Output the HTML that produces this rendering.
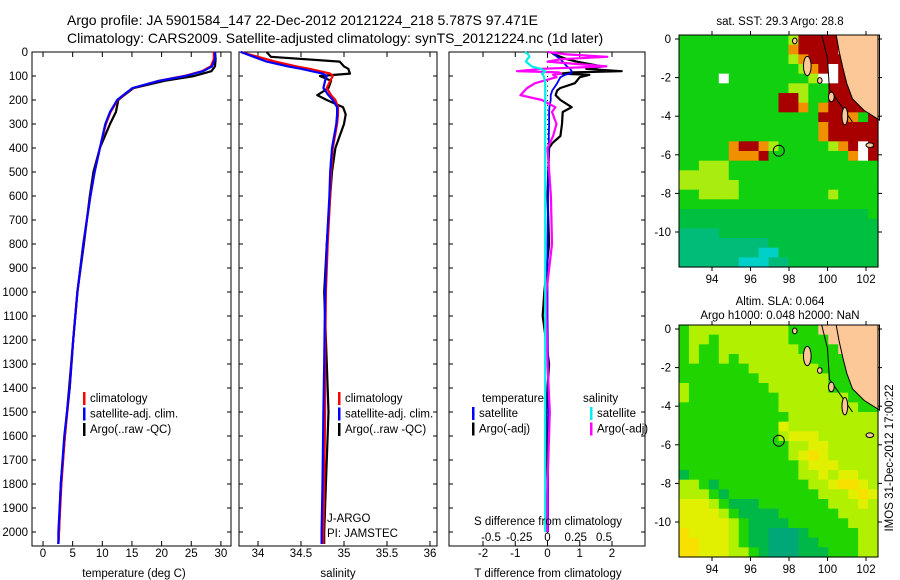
<!DOCTYPE html>
<html><head><meta charset="utf-8">
<style>
html,body{margin:0;padding:0;background:#fff;}
svg{display:block;font-family:"Liberation Sans",sans-serif;}
</style></head>
<body>
<svg id="fig" width="900" height="580" viewBox="0 0 900 580" xmlns="http://www.w3.org/2000/svg">
<text x="67" y="25" font-size="14">Argo profile: JA 5901584_147 22-Dec-2012 20121224_218 5.787S 97.471E</text>
<text x="67" y="43" font-size="14">Climatology: CARS2009. Satellite-adjusted climatology: synTS_20121224.nc (1d later)</text>
</svg>
<script>
// ---------- data ----------
const depthTicks=[0,100,200,300,400,500,600,700,800,900,1000,1100,1200,1300,1400,1500,1600,1700,1800,1900,2000];
const tempTicks=[0,5,10,15,20,25,30];
const salTicks=[34,34.5,35,35.5,36];
const tdiffTicks=[-2,-1,0,1,2];
const sdiffTicks=[-0.5,-0.25,0,0.25,0.5];
const sdiffLabels=["-0.5","-0.25","0","0.25","0.5"];

const tDepth=[0,30,60,80,100,120,150,180,200,250,300,400,500,600,800,1000,1200,1400,1600,1800,2000,2050];
const tClim=[28.8,28.8,28.3,26.8,23.8,19.5,15.2,13.6,12.6,11.4,10.6,9.6,8.7,8.0,6.8,5.8,5.1,4.5,3.7,3.1,2.7,2.6];
const tSat=[29.0,29.0,28.5,27.0,24.0,19.6,15.1,13.5,12.5,11.3,10.5,9.6,8.7,8.0,6.8,5.8,5.1,4.5,3.6,3.0,2.6,2.6];
const tArgo=[29.0,29.1,29.0,28.4,25.5,20.5,15.3,13.7,12.7,12.3,11.3,9.6,8.5,7.9,6.9,5.8,5.1,4.4,3.7,3.0,2.7,2.6];

const sDepth=[0,20,40,60,70,90,100,120,150,180,200,230,260,300,400,500,600,800,1000,1300,1500,1800,2000,2050];
const sClim=[33.8,34.0,34.2,34.45,34.6,34.84,34.87,34.84,34.8,34.85,34.9,34.93,34.93,34.92,34.87,34.85,34.84,34.81,34.79,34.78,34.78,34.77,34.76,34.76];
const sSat=[33.8,33.95,34.1,34.35,34.5,34.75,34.8,34.78,34.76,34.82,34.87,34.92,34.92,34.91,34.86,34.84,34.83,34.8,34.78,34.77,34.76,34.75,34.74,34.74];
const sArgo=[34.1,34.15,34.95,35.0,35.05,35.07,34.72,34.85,34.82,34.69,34.8,34.99,35.02,35.0,34.9,34.86,34.84,34.8,34.77,34.8,34.82,34.79,34.77,34.77];

const dDepth=[0,10,20,30,40,60,70,80,85,90,95,105,130,150,160,180,200,230,250,300,350,380,400,600,800,1000,1100,1300,1500,1800,2000];
const dTsat=[0.17,0.2,0.3,0.4,0.47,0.6,0.7,0.75,0.75,0.7,0.55,0.4,0.3,0.2,0.15,0.1,0.1,0.06,0.05,0.05,0.04,0.04,0.03,0.02,0.0,0.0,0.0,0.02,0.02,0.02,0.02];
const dTargo=[0.1,0.2,0.4,0.6,0.9,1.7,1.2,2.3,0.8,0.4,1.3,1.0,0.85,0.4,0.3,0.25,0.4,0.75,0.47,0.45,0.4,0.15,0.05,0.0,0.05,-0.1,-0.15,0.05,-0.05,0.0,-0.05];
const dSsat=[-0.2,-0.17,-0.16,-0.18,-0.19,-0.14,-0.06,-0.02,-0.03,-0.05,-0.04,-0.03,-0.02,-0.02,-0.02,-0.02,-0.02,-0.02,-0.02,-0.02,-0.02,-0.02,-0.02,-0.02,-0.02,-0.02,-0.02,-0.02,-0.02,-0.02,-0.02];
const dSargo=[0.0,0.17,0.53,0.12,0.0,0.52,-0.05,-0.27,0.1,0.12,0.05,0.08,-0.11,-0.18,-0.2,-0.24,-0.05,0.07,0.04,0.08,0.05,0.02,0.0,0.03,0.04,-0.01,-0.01,0.0,0.02,0.0,0.0];

const lonTicks=[94,96,98,100,102];
const latTicks=[0,-2,-4,-6,-8,-10];
const argoLon=97.471, argoLat=-5.787;
const sstGrid=[
"GGGGGGGGGGGYRRRRLLLL",
"GGGGGGGGGGGoRRRRLLLL",
"GGGGGGGGGGGYoRRRRLLL",
"GGGGGGGGGGGGYoRWRRLL",
"GGGGWGGGGGGGGYWWRRLL",
"GGGGGGGGGGGYYGGRRRRL",
"GGGGGGGGGGRRYGGRRRRL",
"GGGGGGGGGGRRoGoRRRRL",
"GGGGGGGGGGGGGGRRRoGR",
"GGGGGGGGGGGGGGoRRRRR",
"GGGGGGGGGGGGGGoRRRRR",
"GGGGGoRRoYGGGGGYoRWR",
"GGGGGoooRGGGGGGGGoWR",
"GGYYYGGGGGGGGGGGGGGG",
"YYYYYGGGGGGGGGGGGGGG",
"YYYYYYGGGGGGGGGGGGGG",
"GGYYYYGGGGGGGGGYGGGG",
"GGGGGGGGGGGGGGGGGGGG",
"gggggggggggggggggggG",
"gggggggggggggggggggg",
"ccccgggggggggggggggg",
"cccccccccggggggggggg",
"ccccccccCCgggggggggg",
"ccccccCCCccggggggggg"];
const slaGrid=[
"GllllllllllGGGLLLLLL",
"GllGlllllllGGGGLLLLL",
"GlGGllllllllGGGGLLLL",
"GlGGlGlllllllGGGGLLL",
"GGGGGGGlllllllGGGGLL",
"GGGGGGGGlllllllGGGLL",
"lGGGGGGGGllllllGGGGL",
"lGGGGGGGGGlllllllGGG",
"GGGGGGGGGGllllllllGG",
"GGGGGGGGGGGlllllllll",
"GGGGGGGGGGylllllllll",
"GGGGGGGGGGlyyyllllll",
"GGGGGGGGGGGllyylllll",
"GGGGGGGGGGGlyYylllll",
"GGGGGGGGGGGGlyyyllll",
"dGGGGGGGGGGGllylyyll",
"llGdGGGGGGGGGllyYYyl",
"lllGdGGGGGGGGGlllyYy",
"yyylGdddGGGGGGGlllyl",
"yyyylGddddGGGGGGllll",
"yyyyylGddddGGGGGGlll",
"YyyyylGddtttdGGGGGll",
"YYyyylGddtttddGGGGll",
"YYyyyllGdtttdddGGGll"];
const sstColors={G:"#10d010",g:"#00c040",Y:"#a8ec10",o:"#f09000",R:"#a80000",L:"#fcc898",W:"#ffffff",c:"#00bc78",C:"#00d0c8",y:"#f0e000"};
const slaColors={G:"#20d400",l:"#b0f000",y:"#e0f000",Y:"#f8e000",d:"#00b848",t:"#00a878",L:"#fcc898"};
const coast=[[100.45,0.25],[100.6,-0.6],[100.8,-1.5],[101.0,-2.3],[101.3,-3.1],[101.9,-3.7],[102.7,-4.2],[102.7,0.25]];
const islands=[[98.3,-0.1,0.12,0.15],[98.95,-1.4,0.2,0.5],[99.6,-2.15,0.12,0.15],[100.2,-3.0,0.15,0.25],[100.9,-4.0,0.15,0.45],[102.2,-5.5,0.2,0.12]];

// ---------- helpers ----------
const svg=document.getElementById('fig');
const NS="http://www.w3.org/2000/svg";
function mk(tag,attrs,parent){const e=document.createElementNS(NS,tag);for(const k in attrs)e.setAttribute(k,attrs[k]);(parent||svg).appendChild(e);return e;}
function txt(s,x,y,anchor,size,parent){const t=mk('text',{x:x,y:y,'text-anchor':anchor||'start','font-size':size||12},parent);t.textContent=s;return t;}

const Y0=52, YS=0.24, YB=546;
function yD(d){return Y0+d*YS;}

function panel(name,x0,x1){
  const g=mk('g',{});
  
  
  mk('rect',{x:x0,y:Y0,width:x1-x0,height:YB-Y0,fill:'none',stroke:'#000','stroke-width':1},g);
  depthTicks.forEach(d=>{
    mk('line',{x1:x0,x2:x0+4,y1:yD(d),y2:yD(d),stroke:'#000'},g);
    mk('line',{x1:x1-4,x2:x1,y1:yD(d),y2:yD(d),stroke:'#000'},g);
  });
  return g;
}
function xticks(g,ticks,fx,labels,ly){
  ticks.forEach((t,i)=>{
    const x=fx(t);
    mk('line',{x1:x,x2:x,y1:Y0,y2:Y0+5,stroke:'#000'},g);
    mk('line',{x1:x,x2:x,y1:YB-5,y2:YB,stroke:'#000'},g);
    if(labels){txt(labels[i],x,ly,'middle',11.5,g);}
  });
}
function line(g,name,xs,ds,fx,color,w){
  const pts=xs.map((v,i)=>fx(v).toFixed(1)+','+yD(ds[i]).toFixed(1)).join(' ');
  const p=mk('polyline',{points:pts,fill:'none',stroke:color,'stroke-width':w||2.2,'stroke-linejoin':'round'},g);
  
  
}
function legend(g,items,xm,y0){
  items.forEach((it,i)=>{
    const y=y0+i*15.5;
    mk('rect',{x:xm,y:y-10,width:2.5,height:13,fill:it[1]},g);
    const t=txt(it[0],xm+7,y,'start',11.5,g);
    
    
  });
}

// ---------- temperature panel ----------
const fT=v=>43+v*5.93;
const g1=panel('temperature-panel',32,231);
depthTicks.forEach(d=>{txt(String(d),28,yD(d)+4,'end',11.5,g1);});
xticks(g1,tempTicks,fT,tempTicks.map(String),557);
line(g1,'temp-argo',tArgo,tDepth,fT,'#000');
line(g1,'temp-climatology',tClim,tDepth,fT,'#f00');
line(g1,'temp-satellite',tSat,tDepth,fT,'#00f');
legend(g1,[['climatology','#f00'],['satellite-adj. clim.','#00f'],['Argo(..raw -QC)','#000']],83,402);
txt('temperature (deg C)',134,577,'middle',11.5,g1);

// ---------- salinity panel ----------
const fS=v=>258+(v-34)*86;
const g2=panel('salinity-panel',239,437);
xticks(g2,salTicks,fS,salTicks.map(String),557);
line(g2,'sal-argo',sArgo,sDepth,fS,'#000');
line(g2,'sal-climatology',sClim,sDepth,fS,'#f00');
line(g2,'sal-satellite',sSat,sDepth,fS,'#00f');
legend(g2,[['climatology','#f00'],['satellite-adj. clim.','#00f'],['Argo(..raw -QC)','#000']],338,402);
txt('J-ARGO',327,522,'start',11.5,g2);
txt('PI: JAMSTEC',327,537,'start',11.5,g2);
txt('salinity',338,577,'middle',11.5,g2);

// ---------- difference panel ----------
const fDT=v=>547.5+v*32.25;
const fDS=v=>547.5+v*113;
const g3=panel('difference-panel',449,645);
xticks(g3,tdiffTicks,fDT,tdiffTicks.map(String),557);
for(let d=0;d<=2000;d+=20){mk('rect',{x:547,y:yD(d),width:1,height:1,fill:'#000'},g3);}
line(g3,'tdiff-argo',dTargo,dDepth,fDT,'#000');
line(g3,'tdiff-satellite',dTsat,dDepth,fDT,'#00f',1.8);
line(g3,'sdiff-argo',dSargo,dDepth,fDS,'#f0f');
line(g3,'sdiff-satellite',dSsat,dDepth,fDS,'#0ee');
txt('temperature',482,402,'start',11.5,g3);
txt('salinity',583,402,'start',11.5,g3);
legend(g3,[['satellite','#00f'],['Argo(-adj)','#000']],472,417);
legend(g3,[['satellite','#0ee'],['Argo(-adj)','#f0f']],590,417);
txt('S difference from climatology',548,525,'middle',11.5,g3);
sdiffTicks.forEach((v,i)=>txt(sdiffLabels[i],fDS(v),541,'middle',11.5,g3));
txt('T difference from climatology',548,577,'middle',11.5,g3);

// ---------- maps ----------
function map(name,yTop,grid,colors,title1,title2){
  const X0=679,X1=878,H=232;
  const fx=lon=>712+(lon-94)*19.25;
  const fy=lat=>yTop+4-lat*19.3;
  const g=mk('g',{});
  
  
  const cw=(X1-X0)/20, ch=H/grid.length;
  grid.forEach((row,r)=>{
    for(let c=0;c<20;c++){
      const k=row[c]||row[row.length-1];
      const cell=mk('rect',{x:(X0+c*cw).toFixed(2),y:(yTop+r*ch).toFixed(2),width:(cw+0.6).toFixed(2),height:(ch+0.6).toFixed(2),fill:colors[k]},g);
      
      
    }
  });
  mk('polygon',{points:coast.map(p=>fx(p[0]).toFixed(1)+','+Math.max(yTop,fy(p[1])).toFixed(1)).join(' '),fill:'#fcc898',stroke:'#000','stroke-width':1},g);
  mk('polyline',{points:[[99.7,0.2],[100.0,-1.0],[100.1,-2.6],[101.3,-4.3]].map(p=>fx(p[0])+','+Math.max(yTop,fy(p[1]))).join(' '),fill:'none',stroke:'#000','stroke-width':1},g);
  islands.forEach(s=>mk('ellipse',{cx:fx(s[0]),cy:fy(s[1]),rx:s[2]*19.25,ry:s[3]*19.3,fill:'#fcc898',stroke:'#000','stroke-width':1},g));
  mk('rect',{x:X0,y:yTop,width:X1-X0,height:H,fill:'none',stroke:'#000'},g);
  lonTicks.forEach(l=>{const x=fx(l);mk('line',{x1:x,x2:x,y1:yTop,y2:yTop-4,stroke:'#000'},g);mk('line',{x1:x,x2:x,y1:yTop+H,y2:yTop+H+4,stroke:'#000'},g);txt(String(l),x,yTop+H+16,'middle',11.5,g);});
  latTicks.forEach(l=>{const y=fy(l);mk('line',{x1:X0,x2:X0-4,y1:y,y2:y,stroke:'#000'},g);mk('line',{x1:X1,x2:X1+4,y1:y,y2:y,stroke:'#000'},g);txt(String(l),X0-8,y+4,'end',11.5,g);});
  const m=mk('circle',{cx:fx(argoLon),cy:fy(argoLat),r:5.5,fill:'none',stroke:'#000','stroke-width':1},g);
  
  
  if(title2){txt(title1,780,yTop-20,'middle',11.5,g);txt(title2,780,yTop-6,'middle',11.5,g);}
  else txt(title1,780,yTop-10,'middle',11.5,g);
}
map('sst-map',35,sstGrid,sstColors,'sat. SST: 29.3 Argo: 28.8');
map('sla-map',325,slaGrid,slaColors,'Altim. SLA: 0.064','Argo h1000: 0.048 h2000: NaN');
const stamp=txt('IMOS 31-Dec-2012 17:00:22',0,0,'middle',11.5);
stamp.setAttribute('transform','translate(893,458) rotate(-90)');


</script>
</body></html>
